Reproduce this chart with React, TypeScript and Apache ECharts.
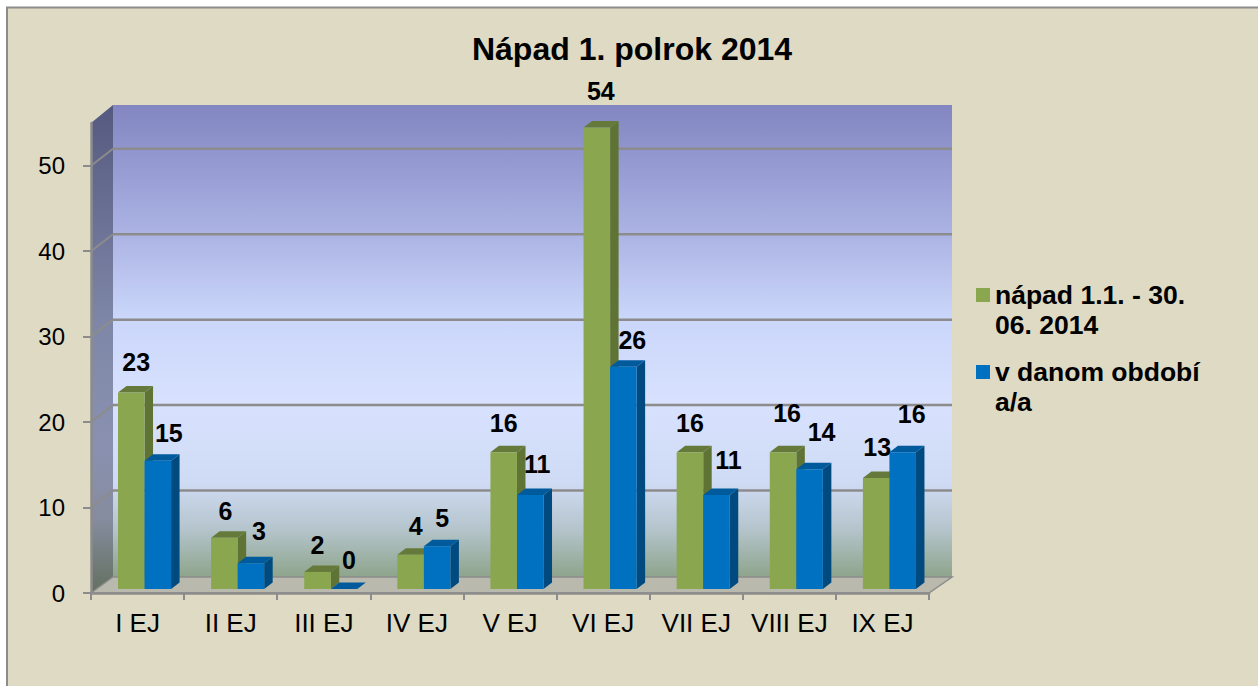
import React, { useEffect, useRef } from "react";
import * as echarts from "echarts";

const categories = ["I EJ", "II EJ", "III EJ", "IV EJ", "V EJ", "VI EJ", "VII EJ", "VIII EJ", "IX EJ"];
const napad = [23, 6, 2, 4, 16, 54, 16, 16, 13];
const vObdobi = [15, 3, 0, 5, 11, 26, 11, 14, 16];
const yTicks = [0, 10, 20, 30, 40, 50];
const titleText = "Nápad 1. polrok 2014";
const nameNapad = "nápad 1.1. - 30.\n06. 2014";
const nameObdobi = "v danom období\na/a";

// Per-label placement adjustments, separate from the values.
const napadLabelNudge = [[4, -3], [0, 0], [-1, 0], [4, -2], [-1, -2], [3, -10], [-1, -2], [3, -12], [0, -4]];
const obdobiLabelNudge = [[3, -1], [0, -5], [-3, -2], [-3, -1], [-1, -4], [1, 0], [4, -8], [4, -10], [1, -11]];

const FONT = '"Liberation Sans", Arial, sans-serif';
const GRID = { left: 91, right: 329, top: 123, bottom: 93 };
const DX = 22;
const DY = 16;
const BACK_RIGHT = 23;
const BAR_DX = 8.5;
const BAR_DY = 6.5;
const GRAY = "#8c8c8c";

const lg = (stops: [number, string][]) =>
  new echarts.graphic.LinearGradient(0, 0, 0, 1, stops.map(([offset, color]) => ({ offset, color })));

function renderFrame(params: any, api: any) {
  const cs = params.coordSys;
  const x0 = cs.x;
  const x1 = cs.x + cs.width;
  const yTop = cs.y;
  const yBot = cs.y + cs.height;
  const children: any[] = [
    {
      type: "polygon",
      shape: { points: [[x0 + DX, yTop - DY - 2], [x1 + BACK_RIGHT, yTop - DY - 2], [x1 + BACK_RIGHT, yBot - DY], [x0 + DX, yBot - DY]] },
      style: {
        fill: lg([
          [0, "#8386c1"],
          [0.1, "#9196ce"],
          [0.27, "#abb3e3"],
          [0.45, "#cad6fa"],
          [0.63, "#d8e2ff"],
          [0.8, "#cfdbf4"],
          [0.9, "#b4c4cb"],
          [1, "#8ea48b"],
        ]),
      },
    },
    {
      type: "polygon",
      shape: { points: [[x0, yTop], [x0 + DX, yTop - DY - 2], [x0 + DX, yBot - DY], [x0, yBot]] },
      style: {
        fill: lg([
          [0, "#55597f"],
          [0.45, "#7f87a8"],
          [0.7, "#8a91b0"],
          [0.85, "#858c9e"],
          [1, "#63705f"],
        ]),
      },
    },
    {
      type: "polygon",
      shape: { points: [[x0, yBot], [x0 + DX, yBot - DY], [x1 + BACK_RIGHT, yBot - DY], [x1, yBot]] },
      style: { fill: "#b9b9ae", stroke: GRAY, lineWidth: 1.5 },
    },
  ];
  yTicks.forEach((t) => {
    const y = api.coord([0, t])[1];
    if (t > 0) {
      children.push({
        type: "line",
        shape: { x1: x0 + DX, y1: y - DY - 1, x2: x1 + BACK_RIGHT, y2: y - DY - 1 },
        style: { stroke: GRAY, lineWidth: 2.5 },
      });
      children.push({
        type: "line",
        shape: { x1: x0, y1: y, x2: x0 + DX, y2: y - DY - 1 },
        style: { stroke: GRAY, lineWidth: 2 },
      });
    }
  });
  return { type: "group", children };
}

function barRenderer(shift: number, front: string, top: string, side: string, labelDx: number, nudge: number[][]) {
  return (params: any, api: any) => {
    const idx = api.value(0);
    const v = api.value(1);
    const band = api.size([1, 0])[0];
    const [cx, y0] = api.coord([idx, 0]);
    const yv = api.coord([idx, v])[1];
    const w = band * 0.285;
    const left = cx + band * 0.075 + shift * w;
    const right = left + w;
    const bot = y0 - 4;
    const t = yv - 4;
    const pts = (p: number[][]) => ({ points: p });
    return {
      type: "group",
      children: [
        { type: "polygon", shape: pts([[right, bot], [right + BAR_DX, bot - BAR_DY], [right + BAR_DX, t - BAR_DY], [right, t]]), style: { fill: side } },
        { type: "polygon", shape: pts([[left, t], [left + BAR_DX, t - BAR_DY], [right + BAR_DX, t - BAR_DY], [right, t]]), style: { fill: top } },
        { type: "rect", shape: { x: left, y: t, width: w, height: bot - t }, style: { fill: front } },
        {
          type: "text",
          z2: 10,
          style: {
            text: String(v),
            x: (left + right) / 2 + labelDx + nudge[idx][0],
            y: t - 27 + nudge[idx][1],
            font: `bold 25px ${FONT}`,
            fill: "#000",
            textAlign: "center",
            textVerticalAlign: "middle",
          },
        },
      ],
    };
  };
}

export default function App() {
  const ref = useRef<HTMLDivElement>(null);
  useEffect(() => {
    const chart = echarts.init(ref.current!, null, { renderer: "svg" });
    const legendItems = [
      { name: nameNapad, color: "#8aa64e", y: 288 },
      { name: nameObdobi, color: "#0070c0", y: 365 },
    ];
    chart.setOption({
      animation: false,
      backgroundColor: "#ffffff",
      title: {
        text: titleText,
        left: 627,
        top: 28,
        textAlign: "center",
        textStyle: { fontFamily: FONT, fontSize: 32, fontWeight: "bold", color: "#000" },
      },
      grid: GRID,
      xAxis: {
        type: "category",
        data: categories,
        z: 3,
        axisLine: { lineStyle: { color: GRAY, width: 2.5 } },
        axisTick: { show: true, length: 7, lineStyle: { color: GRAY, width: 2 } },
        axisLabel: { color: "#000", fontFamily: FONT, fontSize: 26, margin: 17, interval: 0 },
      },
      yAxis: {
        type: "value",
        min: 0,
        max: 55,
        interval: 10,
        z: 3,
        splitLine: { show: false },
        axisLine: { show: true, lineStyle: { color: GRAY, width: 2.5 } },
        axisTick: { show: true, length: 8, customValues: yTicks, lineStyle: { color: GRAY, width: 2 } },
        axisLabel: { color: "#000", fontFamily: FONT, fontSize: 24, margin: 26, customValues: yTicks },
      },
      graphic: [
        {
          type: "rect",
          z: -10,
          silent: true,
          shape: { x: 7, y: 7.5, width: 1260, height: 690 },
          style: { fill: "#dedac3", stroke: GRAY, lineWidth: 2 },
        },
        ...legendItems.flatMap((it) => [
          { type: "rect", z: 5, shape: { x: 976, y: it.y, width: 14, height: 14 }, style: { fill: it.color } },
          {
            type: "text",
            z: 5,
            x: 995,
            y: it.y - 8,
            style: { text: it.name, font: `bold 26.5px ${FONT}`, lineHeight: 30, fill: "#000" },
          },
        ]),
      ],
      series: [
        { type: "custom", name: "frame", z: 1, silent: true, clip: false, renderItem: renderFrame, data: [[0]], encode: { x: 0 } },
        {
          type: "custom",
          name: nameNapad,
          z: 2,
          clip: false,
          renderItem: barRenderer(-1, "#8aa64e", "#657a3a", "#5f7334", 1, napadLabelNudge),
          encode: { x: 0, y: 1 },
          data: napad.map((v, i) => [i, v]),
        },
        {
          type: "custom",
          name: nameObdobi,
          z: 2,
          clip: false,
          renderItem: barRenderer(0, "#0070c0", "#005a9c", "#004a80", 8, obdobiLabelNudge),
          encode: { x: 0, y: 1 },
          data: vObdobi.map((v, i) => [i, v]),
        },
      ],
    });
    return () => chart.dispose();
  }, []);
  return <div ref={ref} style={{ position: "fixed", left: 0, top: 0, width: 1258, height: 686 }} />;
}
